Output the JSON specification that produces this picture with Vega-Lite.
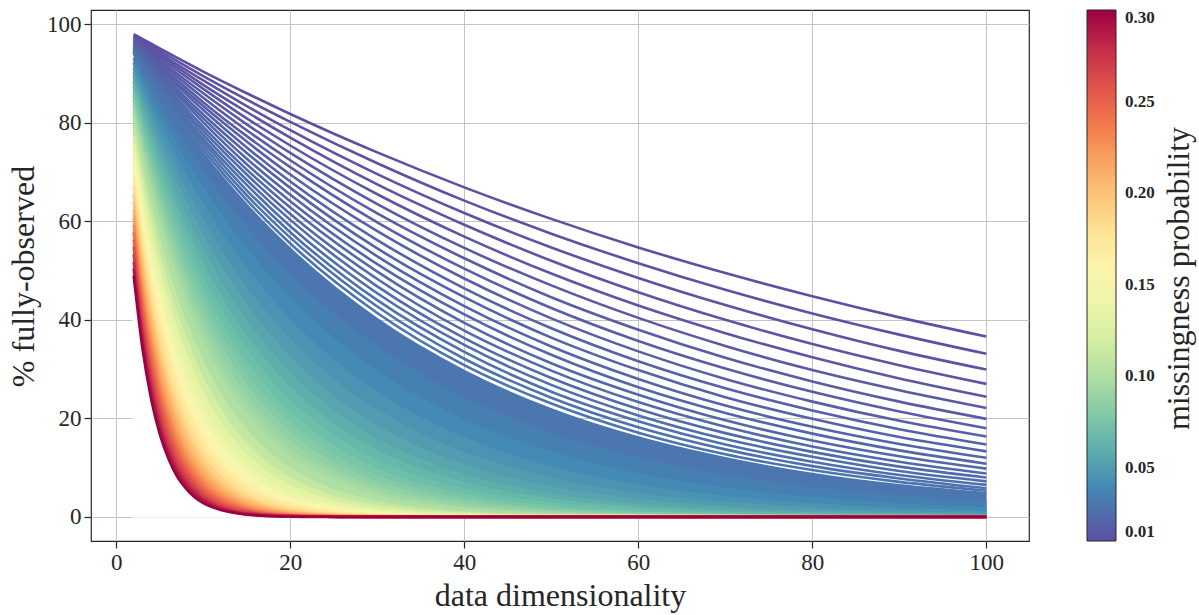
{
  "$schema": "https://vega.github.io/schema/vega-lite/v6.json",
  "width": 938,
  "height": 531,
  "autosize": {"type": "none"},
  "padding": {"left": 91, "top": 10, "right": 170, "bottom": 74},
  "background": "white",
  "config": {
    "font": "Liberation Serif",
    "view": {"stroke": "#262626", "strokeWidth": 1.2},
    "axis": {
      "labelFont": "Liberation Serif",
      "labelFontSize": 23,
      "labelColor": "#262626",
      "labelPadding": 3,
      "tickColor": "#262626",
      "tickSize": 7,
      "tickWidth": 1.2,
      "domain": false,
      "gridColor": "#c4c4c4",
      "gridWidth": 1,
      "titleFont": "Liberation Serif",
      "titleFontSize": 32,
      "titleFontWeight": "normal",
      "titleColor": "#262626"
    },
    "legend": {
      "labelFont": "Liberation Serif"
    }
  },
  "data": {
    "format": {"type": "csv", "parse": {"p": "number", "d": "number", "v": "number"}},
    "values": "p,d,v\n0.01,2,98.0\n0.01,5,95.1\n0.01,10,90.4\n0.01,15,86.0\n0.01,20,81.8\n0.01,30,74.0\n0.01,40,66.9\n0.01,50,60.5\n0.01,60,54.7\n0.01,70,49.5\n0.01,80,44.8\n0.01,90,40.5\n0.01,100,36.6\n0.011,2,97.8\n0.011,5,94.6\n0.011,10,89.5\n0.011,15,84.7\n0.011,20,80.2\n0.011,30,71.8\n0.011,40,64.2\n0.011,50,57.5\n0.011,60,51.5\n0.011,70,46.1\n0.011,80,41.3\n0.011,90,37.0\n0.011,100,33.1\n0.012,2,97.6\n0.012,5,94.1\n0.012,10,88.6\n0.012,15,83.4\n0.012,20,78.5\n0.012,30,69.6\n0.012,40,61.7\n0.012,50,54.7\n0.012,60,48.5\n0.012,70,43.0\n0.012,80,38.1\n0.012,90,33.7\n0.012,100,29.9\n0.013,2,97.4\n0.013,5,93.7\n0.013,10,87.7\n0.013,15,82.2\n0.013,20,77.0\n0.013,30,67.5\n0.013,40,59.3\n0.013,50,52.0\n0.013,60,45.6\n0.013,70,40.0\n0.013,80,35.1\n0.013,90,30.8\n0.013,100,27.0\n0.014,2,97.2\n0.014,5,93.2\n0.014,10,86.9\n0.014,15,80.9\n0.014,20,75.4\n0.014,30,65.5\n0.014,40,56.9\n0.014,50,49.4\n0.014,60,42.9\n0.014,70,37.3\n0.014,80,32.4\n0.014,90,28.1\n0.014,100,24.4\n0.015,2,97.0\n0.015,5,92.7\n0.015,10,86.0\n0.015,15,79.7\n0.015,20,73.9\n0.015,30,63.5\n0.015,40,54.6\n0.015,50,47.0\n0.015,60,40.4\n0.015,70,34.7\n0.015,80,29.8\n0.015,90,25.7\n0.015,100,22.1\n0.016,2,96.8\n0.016,5,92.3\n0.016,10,85.1\n0.016,15,78.5\n0.016,20,72.4\n0.016,30,61.6\n0.016,40,52.5\n0.016,50,44.6\n0.016,60,38.0\n0.016,70,32.3\n0.016,80,27.5\n0.016,90,23.4\n0.016,100,19.9\n0.017,2,96.6\n0.017,5,91.8\n0.017,10,84.2\n0.017,15,77.3\n0.017,20,71.0\n0.017,30,59.8\n0.017,40,50.4\n0.017,50,42.4\n0.017,60,35.7\n0.017,70,30.1\n0.017,80,25.4\n0.017,90,21.4\n0.017,100,18.0\n0.018,2,96.4\n0.018,5,91.3\n0.018,10,83.4\n0.018,15,76.2\n0.018,20,69.5\n0.018,30,58.0\n0.018,40,48.4\n0.018,50,40.3\n0.018,60,33.6\n0.018,70,28.0\n0.018,80,23.4\n0.018,90,19.5\n0.018,100,16.3\n0.019,2,96.2\n0.019,5,90.9\n0.019,10,82.6\n0.019,15,75.0\n0.019,20,68.1\n0.019,30,56.2\n0.019,40,46.4\n0.019,50,38.3\n0.019,60,31.6\n0.019,70,26.1\n0.019,80,21.6\n0.019,90,17.8\n0.019,100,14.7\n0.02,2,96.0\n0.02,5,90.4\n0.02,10,81.7\n0.02,15,73.9\n0.02,20,66.8\n0.02,30,54.5\n0.02,40,44.6\n0.02,50,36.4\n0.02,60,29.8\n0.02,70,24.3\n0.02,80,19.9\n0.02,90,16.2\n0.02,100,13.3\n0.021,2,95.8\n0.021,5,89.9\n0.021,10,80.9\n0.021,15,72.7\n0.021,20,65.4\n0.021,30,52.9\n0.021,40,42.8\n0.021,50,34.6\n0.021,60,28.0\n0.021,70,22.6\n0.021,80,18.3\n0.021,90,14.8\n0.021,100,12.0\n0.022,2,95.6\n0.022,5,89.5\n0.022,10,80.1\n0.022,15,71.6\n0.022,20,64.1\n0.022,30,51.3\n0.022,40,41.1\n0.022,50,32.9\n0.022,60,26.3\n0.022,70,21.1\n0.022,80,16.9\n0.022,90,13.5\n0.022,100,10.8\n0.023,2,95.5\n0.023,5,89.0\n0.023,10,79.2\n0.023,15,70.5\n0.023,20,62.8\n0.023,30,49.8\n0.023,40,39.4\n0.023,50,31.2\n0.023,60,24.8\n0.023,70,19.6\n0.023,80,15.5\n0.023,90,12.3\n0.023,100,9.8\n0.024,2,95.3\n0.024,5,88.6\n0.024,10,78.4\n0.024,15,69.5\n0.024,20,61.5\n0.024,30,48.3\n0.024,40,37.8\n0.024,50,29.7\n0.024,60,23.3\n0.024,70,18.3\n0.024,80,14.3\n0.024,90,11.2\n0.024,100,8.8\n0.025,2,95.1\n0.025,5,88.1\n0.025,10,77.6\n0.025,15,68.4\n0.025,20,60.3\n0.025,30,46.8\n0.025,40,36.3\n0.025,50,28.2\n0.025,60,21.9\n0.025,70,17.0\n0.025,80,13.2\n0.025,90,10.2\n0.025,100,8.0\n0.026,2,94.9\n0.026,5,87.7\n0.026,10,76.8\n0.026,15,67.4\n0.026,20,59.0\n0.026,30,45.4\n0.026,40,34.9\n0.026,50,26.8\n0.026,60,20.6\n0.026,70,15.8\n0.026,80,12.2\n0.026,90,9.3\n0.026,100,7.2\n0.027,2,94.7\n0.027,5,87.2\n0.027,10,76.1\n0.027,15,66.3\n0.027,20,57.8\n0.027,30,44.0\n0.027,40,33.5\n0.027,50,25.4\n0.027,60,19.4\n0.027,70,14.7\n0.027,80,11.2\n0.027,90,8.5\n0.027,100,6.5\n0.028,2,94.5\n0.028,5,86.8\n0.028,10,75.3\n0.028,15,65.3\n0.028,20,56.7\n0.028,30,42.7\n0.028,40,32.1\n0.028,50,24.2\n0.028,60,18.2\n0.028,70,13.7\n0.028,80,10.3\n0.028,90,7.8\n0.028,100,5.8\n0.029,2,94.3\n0.029,5,86.3\n0.029,10,74.5\n0.029,15,64.3\n0.029,20,55.5\n0.029,30,41.4\n0.029,40,30.8\n0.029,50,23.0\n0.029,60,17.1\n0.029,70,12.7\n0.029,80,9.5\n0.029,90,7.1\n0.029,100,5.3\n0.03,2,94.1\n0.03,5,85.9\n0.03,10,73.7\n0.03,15,63.3\n0.03,20,54.4\n0.03,30,40.1\n0.03,40,29.6\n0.03,50,21.8\n0.03,60,16.1\n0.03,70,11.9\n0.03,80,8.7\n0.03,90,6.4\n0.03,100,4.8\n0.035,2,93.1\n0.035,4,86.7\n0.035,6,80.8\n0.035,8,75.2\n0.035,10,70.0\n0.035,13,62.9\n0.035,16,56.6\n0.035,20,49.0\n0.035,25,41.0\n0.035,30,34.3\n0.035,35,28.7\n0.035,40,24.0\n0.035,50,16.8\n0.035,60,11.8\n0.035,70,8.3\n0.035,80,5.8\n0.035,90,4.1\n0.035,100,2.8\n0.04,2,92.2\n0.04,4,84.9\n0.04,6,78.3\n0.04,8,72.1\n0.04,10,66.5\n0.04,13,58.8\n0.04,16,52.0\n0.04,20,44.2\n0.04,25,36.0\n0.04,30,29.4\n0.04,35,24.0\n0.04,40,19.5\n0.04,50,13.0\n0.04,60,8.6\n0.04,70,5.7\n0.04,80,3.8\n0.04,90,2.5\n0.04,100,1.7\n0.045,2,91.2\n0.045,4,83.2\n0.045,6,75.9\n0.045,8,69.2\n0.045,10,63.1\n0.045,13,55.0\n0.045,16,47.9\n0.045,20,39.8\n0.045,25,31.6\n0.045,30,25.1\n0.045,35,20.0\n0.045,40,15.9\n0.045,50,10.0\n0.045,60,6.3\n0.045,70,4.0\n0.045,80,2.5\n0.045,90,1.6\n0.045,100,1.0\n0.05,2,90.3\n0.05,4,81.5\n0.05,6,73.5\n0.05,8,66.3\n0.05,10,59.9\n0.05,13,51.3\n0.05,16,44.0\n0.05,20,35.8\n0.05,25,27.7\n0.05,30,21.5\n0.05,35,16.6\n0.05,40,12.9\n0.05,50,7.7\n0.05,60,4.6\n0.05,70,2.8\n0.05,80,1.7\n0.05,90,1.0\n0.05,100,0.6\n0.055,2,89.3\n0.055,4,79.7\n0.055,6,71.2\n0.055,8,63.6\n0.055,10,56.8\n0.055,13,47.9\n0.055,16,40.4\n0.055,20,32.3\n0.055,25,24.3\n0.055,30,18.3\n0.055,35,13.8\n0.055,40,10.4\n0.055,50,5.9\n0.055,60,3.4\n0.055,70,1.9\n0.055,80,1.1\n0.055,90,0.6\n0.055,100,0.3\n0.06,2,88.4\n0.06,4,78.1\n0.06,6,69.0\n0.06,8,61.0\n0.06,10,53.9\n0.06,13,44.7\n0.06,16,37.2\n0.06,20,29.0\n0.06,25,21.3\n0.06,30,15.6\n0.06,35,11.5\n0.06,40,8.4\n0.06,50,4.5\n0.06,60,2.4\n0.06,70,1.3\n0.06,80,0.7\n0.06,90,0.4\n0.06,100,0.2\n0.065,2,87.4\n0.065,3,81.7\n0.065,4,76.4\n0.065,6,66.8\n0.065,8,58.4\n0.065,10,51.1\n0.065,12,44.6\n0.065,15,36.5\n0.065,18,29.8\n0.065,22,22.8\n0.065,26,17.4\n0.065,30,13.3\n0.065,35,9.5\n0.065,40,6.8\n0.065,50,3.5\n0.065,60,1.8\n0.065,75,0.6\n0.065,100,0.1\n0.07,2,86.5\n0.07,3,80.4\n0.07,4,74.8\n0.07,6,64.7\n0.07,8,56.0\n0.07,10,48.4\n0.07,12,41.9\n0.07,15,33.7\n0.07,18,27.1\n0.07,22,20.3\n0.07,26,15.2\n0.07,30,11.3\n0.07,35,7.9\n0.07,40,5.5\n0.07,50,2.7\n0.07,60,1.3\n0.07,75,0.4\n0.07,100,0.1\n0.075,2,85.6\n0.075,3,79.1\n0.075,4,73.2\n0.075,6,62.6\n0.075,8,53.6\n0.075,10,45.9\n0.075,12,39.2\n0.075,15,31.1\n0.075,18,24.6\n0.075,22,18.0\n0.075,26,13.2\n0.075,30,9.6\n0.075,35,6.5\n0.075,40,4.4\n0.075,50,2.0\n0.075,60,0.9\n0.075,75,0.3\n0.075,100,0.0\n0.08,2,84.6\n0.08,3,77.9\n0.08,4,71.6\n0.08,6,60.6\n0.08,8,51.3\n0.08,10,43.4\n0.08,12,36.8\n0.08,15,28.6\n0.08,18,22.3\n0.08,22,16.0\n0.08,26,11.4\n0.08,30,8.2\n0.08,35,5.4\n0.08,40,3.6\n0.08,50,1.5\n0.08,60,0.7\n0.08,75,0.2\n0.08,100,0.0\n0.085,2,83.7\n0.085,3,76.6\n0.085,4,70.1\n0.085,6,58.7\n0.085,8,49.1\n0.085,10,41.1\n0.085,12,34.4\n0.085,15,26.4\n0.085,18,20.2\n0.085,22,14.2\n0.085,26,9.9\n0.085,30,7.0\n0.085,35,4.5\n0.085,40,2.9\n0.085,50,1.2\n0.085,60,0.5\n0.085,75,0.1\n0.085,100,0.0\n0.09,2,82.8\n0.09,3,75.4\n0.09,4,68.6\n0.09,6,56.8\n0.09,8,47.0\n0.09,10,38.9\n0.09,12,32.2\n0.09,15,24.3\n0.09,18,18.3\n0.09,22,12.6\n0.09,26,8.6\n0.09,30,5.9\n0.09,35,3.7\n0.09,40,2.3\n0.09,50,0.9\n0.09,60,0.3\n0.09,75,0.1\n0.09,100,0.0\n0.095,2,81.9\n0.095,3,74.1\n0.095,4,67.1\n0.095,6,54.9\n0.095,8,45.0\n0.095,10,36.9\n0.095,12,30.2\n0.095,15,22.4\n0.095,18,16.6\n0.095,22,11.1\n0.095,26,7.5\n0.095,30,5.0\n0.095,35,3.0\n0.095,40,1.8\n0.095,50,0.7\n0.095,60,0.3\n0.095,75,0.1\n0.095,100,0.0\n0.1,2,81.0\n0.1,3,72.9\n0.1,4,65.6\n0.1,6,53.1\n0.1,8,43.0\n0.1,10,34.9\n0.1,12,28.2\n0.1,15,20.6\n0.1,18,15.0\n0.1,22,9.8\n0.1,26,6.5\n0.1,30,4.2\n0.1,35,2.5\n0.1,40,1.5\n0.1,50,0.5\n0.1,60,0.2\n0.1,75,0.0\n0.1,100,0.0\n0.11,2,79.2\n0.11,3,70.5\n0.11,4,62.7\n0.11,5,55.8\n0.11,6,49.7\n0.11,7,44.2\n0.11,8,39.4\n0.11,10,31.2\n0.11,12,24.7\n0.11,14,19.6\n0.11,16,15.5\n0.11,19,10.9\n0.11,22,7.7\n0.11,26,4.8\n0.11,30,3.0\n0.11,40,0.9\n0.11,50,0.3\n0.11,100,0.0\n0.12,2,77.4\n0.12,3,68.1\n0.12,4,60.0\n0.12,5,52.8\n0.12,6,46.4\n0.12,7,40.9\n0.12,8,36.0\n0.12,10,27.9\n0.12,12,21.6\n0.12,14,16.7\n0.12,16,12.9\n0.12,19,8.8\n0.12,22,6.0\n0.12,26,3.6\n0.12,30,2.2\n0.12,40,0.6\n0.12,50,0.2\n0.12,100,0.0\n0.13,2,75.7\n0.13,3,65.9\n0.13,4,57.3\n0.13,5,49.8\n0.13,6,43.4\n0.13,7,37.7\n0.13,8,32.8\n0.13,10,24.8\n0.13,12,18.8\n0.13,14,14.2\n0.13,16,10.8\n0.13,19,7.1\n0.13,22,4.7\n0.13,26,2.7\n0.13,30,1.5\n0.13,40,0.4\n0.13,50,0.1\n0.13,100,0.0\n0.14,2,74.0\n0.14,3,63.6\n0.14,4,54.7\n0.14,5,47.0\n0.14,6,40.5\n0.14,7,34.8\n0.14,8,29.9\n0.14,10,22.1\n0.14,12,16.4\n0.14,14,12.1\n0.14,16,9.0\n0.14,19,5.7\n0.14,22,3.6\n0.14,26,2.0\n0.14,30,1.1\n0.14,40,0.2\n0.14,50,0.1\n0.14,100,0.0\n0.15,2,72.3\n0.15,3,61.4\n0.15,4,52.2\n0.15,5,44.4\n0.15,6,37.7\n0.15,7,32.1\n0.15,8,27.2\n0.15,10,19.7\n0.15,12,14.2\n0.15,14,10.3\n0.15,16,7.4\n0.15,19,4.6\n0.15,22,2.8\n0.15,26,1.5\n0.15,30,0.8\n0.15,40,0.2\n0.15,50,0.0\n0.15,100,0.0\n0.16,2,70.6\n0.16,3,59.3\n0.16,4,49.8\n0.16,5,41.8\n0.16,6,35.1\n0.16,7,29.5\n0.16,8,24.8\n0.16,10,17.5\n0.16,12,12.3\n0.16,14,8.7\n0.16,16,6.1\n0.16,19,3.6\n0.16,22,2.2\n0.16,26,1.1\n0.16,30,0.5\n0.16,40,0.1\n0.16,50,0.0\n0.16,100,0.0\n0.17,2,68.9\n0.17,3,57.2\n0.17,4,47.5\n0.17,5,39.4\n0.17,6,32.7\n0.17,7,27.1\n0.17,8,22.5\n0.17,10,15.5\n0.17,12,10.7\n0.17,14,7.4\n0.17,16,5.1\n0.17,19,2.9\n0.17,22,1.7\n0.17,26,0.8\n0.17,30,0.4\n0.17,40,0.1\n0.17,50,0.0\n0.17,100,0.0\n0.18,2,67.2\n0.18,3,55.1\n0.18,4,45.2\n0.18,5,37.1\n0.18,6,30.4\n0.18,7,24.9\n0.18,8,20.4\n0.18,10,13.7\n0.18,12,9.2\n0.18,14,6.2\n0.18,16,4.2\n0.18,19,2.3\n0.18,22,1.3\n0.18,26,0.6\n0.18,30,0.3\n0.18,40,0.0\n0.18,50,0.0\n0.18,100,0.0\n0.19,2,65.6\n0.19,3,53.1\n0.19,4,43.0\n0.19,5,34.9\n0.19,6,28.2\n0.19,7,22.9\n0.19,8,18.5\n0.19,10,12.2\n0.19,12,8.0\n0.19,14,5.2\n0.19,16,3.4\n0.19,19,1.8\n0.19,22,1.0\n0.19,26,0.4\n0.19,30,0.2\n0.19,40,0.0\n0.19,50,0.0\n0.19,100,0.0\n0.2,2,64.0\n0.2,3,51.2\n0.2,4,41.0\n0.2,5,32.8\n0.2,6,26.2\n0.2,7,21.0\n0.2,8,16.8\n0.2,10,10.7\n0.2,12,6.9\n0.2,14,4.4\n0.2,16,2.8\n0.2,19,1.4\n0.2,22,0.7\n0.2,26,0.3\n0.2,30,0.1\n0.2,40,0.0\n0.2,50,0.0\n0.2,100,0.0\n0.21,2,62.4\n0.21,3,49.3\n0.21,4,39.0\n0.21,5,30.8\n0.21,6,24.3\n0.21,7,19.2\n0.21,8,15.2\n0.21,9,12.0\n0.21,10,9.5\n0.21,12,5.9\n0.21,14,3.7\n0.21,16,2.3\n0.21,19,1.1\n0.21,22,0.6\n0.21,26,0.2\n0.21,30,0.1\n0.21,100,0.0\n0.22,2,60.8\n0.22,3,47.5\n0.22,4,37.0\n0.22,5,28.9\n0.22,6,22.5\n0.22,7,17.6\n0.22,8,13.7\n0.22,9,10.7\n0.22,10,8.3\n0.22,12,5.1\n0.22,14,3.1\n0.22,16,1.9\n0.22,19,0.9\n0.22,22,0.4\n0.22,26,0.2\n0.22,30,0.1\n0.22,100,0.0\n0.23,2,59.3\n0.23,3,45.7\n0.23,4,35.2\n0.23,5,27.1\n0.23,6,20.8\n0.23,7,16.0\n0.23,8,12.4\n0.23,9,9.5\n0.23,10,7.3\n0.23,12,4.3\n0.23,14,2.6\n0.23,16,1.5\n0.23,19,0.7\n0.23,22,0.3\n0.23,26,0.1\n0.23,30,0.0\n0.23,100,0.0\n0.24,2,57.8\n0.24,3,43.9\n0.24,4,33.4\n0.24,5,25.4\n0.24,6,19.3\n0.24,7,14.6\n0.24,8,11.1\n0.24,9,8.5\n0.24,10,6.4\n0.24,12,3.7\n0.24,14,2.1\n0.24,16,1.2\n0.24,19,0.5\n0.24,22,0.2\n0.24,26,0.1\n0.24,30,0.0\n0.24,100,0.0\n0.25,2,56.3\n0.25,3,42.2\n0.25,4,31.6\n0.25,5,23.7\n0.25,6,17.8\n0.25,7,13.3\n0.25,8,10.0\n0.25,9,7.5\n0.25,10,5.6\n0.25,12,3.2\n0.25,14,1.8\n0.25,16,1.0\n0.25,19,0.4\n0.25,22,0.2\n0.25,26,0.1\n0.25,30,0.0\n0.25,100,0.0\n0.26,2,54.8\n0.26,3,40.5\n0.26,4,30.0\n0.26,5,22.2\n0.26,6,16.4\n0.26,7,12.2\n0.26,8,9.0\n0.26,9,6.7\n0.26,10,4.9\n0.26,12,2.7\n0.26,14,1.5\n0.26,16,0.8\n0.26,19,0.3\n0.26,22,0.1\n0.26,26,0.0\n0.26,30,0.0\n0.26,100,0.0\n0.27,2,53.3\n0.27,3,38.9\n0.27,4,28.4\n0.27,5,20.7\n0.27,6,15.1\n0.27,7,11.0\n0.27,8,8.1\n0.27,9,5.9\n0.27,10,4.3\n0.27,12,2.3\n0.27,14,1.2\n0.27,16,0.7\n0.27,19,0.3\n0.27,22,0.1\n0.27,26,0.0\n0.27,30,0.0\n0.27,100,0.0\n0.28,2,51.8\n0.28,3,37.3\n0.28,4,26.9\n0.28,5,19.3\n0.28,6,13.9\n0.28,7,10.0\n0.28,8,7.2\n0.28,9,5.2\n0.28,10,3.7\n0.28,12,1.9\n0.28,14,1.0\n0.28,16,0.5\n0.28,19,0.2\n0.28,22,0.1\n0.28,26,0.0\n0.28,30,0.0\n0.28,100,0.0\n0.29,2,50.4\n0.29,3,35.8\n0.29,4,25.4\n0.29,5,18.0\n0.29,6,12.8\n0.29,7,9.1\n0.29,8,6.5\n0.29,9,4.6\n0.29,10,3.3\n0.29,12,1.6\n0.29,14,0.8\n0.29,16,0.4\n0.29,19,0.1\n0.29,22,0.1\n0.29,26,0.0\n0.29,30,0.0\n0.29,100,0.0\n0.3,2,49.0\n0.3,3,34.3\n0.3,4,24.0\n0.3,5,16.8\n0.3,6,11.8\n0.3,7,8.2\n0.3,8,5.8\n0.3,9,4.0\n0.3,10,2.8\n0.3,12,1.4\n0.3,14,0.7\n0.3,16,0.3\n0.3,19,0.1\n0.3,22,0.0\n0.3,26,0.0\n0.3,30,0.0\n0.3,100,0.0"
  },
  "resolve": {"axis": {"y": "independent"}, "scale": {"color": "independent"}},
  "layer": [
    {
      "transform": [{"filter": {"field": "p", "gte": 0.0295}}],
      "mark": {"type": "area", "interpolate": "monotone", "opacity": 1},
      "encoding": {
        "x": {
          "field": "d", "type": "quantitative",
          "scale": {"domain": [-2.9, 104.9], "nice": false, "zero": false},
          "axis": {
            "values": [0, 20, 40, 60, 80, 100],
            "grid": true,
            "title": "data dimensionality",
            "titleX": 469, "titleY": 64, "titleBaseline": "alphabetic", "titleAlign": "center"
          }
        },
        "y": {
          "field": "v", "type": "quantitative", "stack": null,
          "scale": {"domain": [-4.9, 102.91], "nice": false, "zero": false},
          "axis": {
            "orient": "left",
            "values": [0, 20, 40, 60, 80, 100],
            "grid": true,
            "title": "% fully-observed",
            "titleAngle": 270, "titleX": -58, "titleY": 266,
            "titleBaseline": "alphabetic", "titleAlign": "center"
          }
        },
        "color": {
          "field": "p", "type": "quantitative",
          "scale": {"type": "linear", "scheme": "spectral", "reverse": true, "domain": [0.01, 0.3]},
          "legend": {
            "type": "gradient",
            "orient": "none", "legendX": 996, "legendY": 0, "direction": "vertical",
            "gradientLength": 531, "gradientThickness": 29,
            "gradientStrokeColor": "#262626", "gradientStrokeWidth": 1,
            "title": null, "values": [0.01, 0.05, 0.1, 0.15, 0.2, 0.25, 0.3], "format": ".2f",
            "labelFontSize": 17, "labelFontWeight": "bold", "labelColor": "#262626",
            "labelOffset": 9, "padding": 0
          }
        },
        "detail": {"field": "p", "type": "nominal"}
      }
    },
    {
      "transform": [{"filter": {"field": "p", "gte": 0.2995}}],
      "mark": {"type": "area", "interpolate": "monotone", "color": "white", "stroke": "white", "strokeWidth": 2, "opacity": 1},
      "encoding": {
        "x": {"field": "d", "type": "quantitative", "scale": {"domain": [-2.9, 104.9], "nice": false, "zero": false}},
        "y": {"field": "v", "type": "quantitative", "stack": null, "scale": {"domain": [-4.9, 102.91], "nice": false, "zero": false}, "axis": null}
      }
    },
    {
      "mark": {"type": "line", "interpolate": "monotone", "strokeWidth": 2.6},
      "encoding": {
        "x": {"field": "d", "type": "quantitative", "scale": {"domain": [-2.9, 104.9], "nice": false, "zero": false}},
        "y": {
          "field": "v", "type": "quantitative",
          "scale": {"domain": [-4.9, 102.91], "nice": false, "zero": false},
          "axis": {
            "orient": "right", "labels": false, "ticks": false, "domain": false, "grid": false,
            "title": "missingness probability",
            "titleAngle": 270, "titleX": 159, "titleY": 268,
            "titleBaseline": "alphabetic", "titleAlign": "center"
          }
        },
        "color": {
          "field": "p", "type": "quantitative",
          "scale": {"type": "linear", "scheme": "spectral", "reverse": true, "domain": [0.01, 0.3]},
          "legend": null
        },
        "detail": {"field": "p", "type": "nominal"}
      }
    }
  ]
}
